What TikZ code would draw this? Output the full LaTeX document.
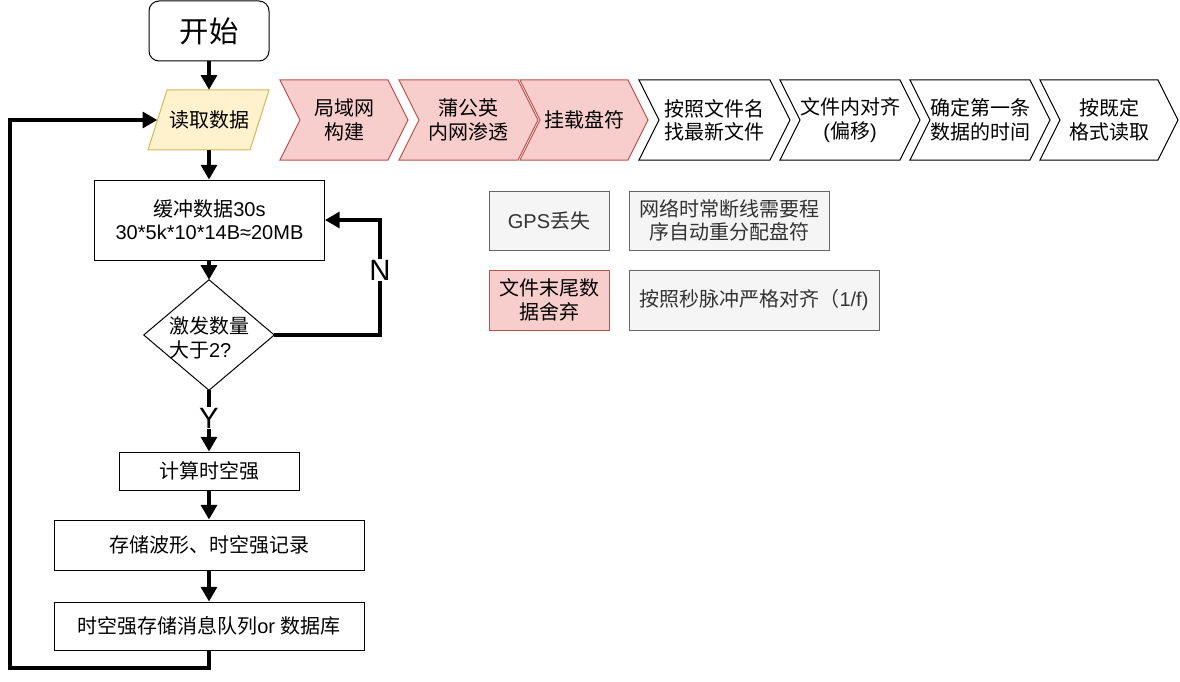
\documentclass[tikz,border=0pt]{standalone}
\usepackage{fontspec}
\setmainfont{Noto Sans CJK SC}
\newfontfamily\lat{Liberation Sans}
\usetikzlibrary{arrows.meta,calc}
\definecolor{redfill}{HTML}{F8CECC}
\definecolor{redline}{HTML}{B85450}
\definecolor{yelfill}{HTML}{FFF2CC}
\definecolor{yelline}{HTML}{D6B656}
\definecolor{grayfill}{HTML}{F5F5F5}
\definecolor{grayline}{HTML}{666666}
\definecolor{graytext}{HTML}{333333}
\newcommand\mychev[5]{%
  \draw[#3] (#1,80) -- (#2,80) -- ({#2+20},120) -- (#2,160) -- (#1,160) -- ({#1+20},120) -- cycle;
  \node[txt] (#4) at ({(#1+#2+20)/2},120) {#5};}
\begin{document}
\begin{tikzpicture}[x=0.75pt,y=-0.75pt,
  txt/.style={font=\fontsize{15pt}{17.5pt}\selectfont, inner sep=0pt, align=center},
  box/.style={txt, draw, line width=0.75pt},
  graybox/.style={box, draw=grayline, fill=grayfill, text=graytext},
  redbox/.style={box, draw=redline, fill=redfill},
  redchev/.style={draw=redline, fill=redfill, line width=0.75pt, line join=miter},
  whitechev/.style={draw=black, fill=white, line width=0.75pt, line join=miter},
  conn/.style={line width=2.5pt, -{Triangle[length=11pt,width=12pt]}},
  lbl/.style={font=\fontsize{22pt}{24pt}\selectfont\lat, fill=white, inner sep=1pt}
]
\useasboundingbox (0,0) rectangle (1180,681);

% left flow
\node[box, rounded corners=7.5pt, minimum width=90pt, minimum height=45pt,
      font=\fontsize{22pt}{24pt}\selectfont] (start) at (209,31) {开始};
\node[txt, minimum width=77.25pt, minimum height=45pt] (read) at (209,120) {};
\draw[draw=yelline, fill=yelfill, line width=0.75pt]
  ($(read.center)+(-42,-30)$) -- ($(read.center)+(60,-30)$) --
  ($(read.center)+(41,30)$) -- ($(read.center)+(-61,30)$) -- cycle;
\node[txt] (readtxt) at (read.center) {读取数据};

\node[box, minimum width=172.5pt, minimum height=60pt] (buf) at (209.5,220)
  {缓冲数据{\lat 30s}\\{\lat 30*5k*10*14B≈20MB}};

\node[txt, minimum width=97.5pt, minimum height=82.5pt] (dec) at (209,335) {};
\draw[line width=0.75pt] (dec.north) -- (dec.east) -- (dec.south) -- (dec.west) -- cycle;
\node[txt, align=left] (dectxt) at (209,338) {激发数量\\大于{\lat 2?}};

\node[box, minimum width=135pt, minimum height=28.5pt] (calc) at (209,471) {计算时空强};
\node[box, minimum width=232.5pt, minimum height=37.5pt] (store) at (209,545) {存储波形、时空强记录};
\node[box, minimum width=232.5pt, minimum height=36pt] (mq) at (209,626) {时空强存储消息队列{\lat or }数据库};

\draw[conn] (start.south) -- (start.south |- read.north);
\draw[conn] (read.south) -- (read.south |- buf.north);
\draw[conn] (buf.south -| dec.north) -- (dec.north);
\coordinate (nc) at (380,335);
\draw[conn] (dec.east) -- (nc) |- (buf.east);
\node[lbl] (nlbl) at (380,270) {N};
\draw[conn] (dec.south) -- (calc.north);
\node[lbl] (ylbl) at (209,418) {Y};
\draw[conn] (calc.south) -- (store.north);
\draw[conn] (store.south) -- (mq.north);
\coordinate (l1) at (209,668);
\coordinate (l2) at (10,668);
\coordinate (l3) at (10,120);
\draw[conn] (mq.south) -- (l1) -- (l2) -- (l3) -- (read.west);

% chevrons
\mychev{280}{388}{redchev}{c1}{局域网\\构建}
\mychev{399}{518}{redchev}{c2}{蒲公英\\内网渗透}
\mychev{520}{628}{redchev}{c3}{挂载盘符}
\mychev{639}{770}{whitechev}{c4}{按照文件名\\找最新文件}
\mychev{780}{900}{whitechev}{c5}{文件内对齐\\{\lat (}偏移{\lat )}}
\mychev{910}{1030}{whitechev}{c6}{确定第一条\\数据的时间}
\mychev{1040}{1158}{whitechev}{c7}{按既定\\格式读取}

% notes
\node[graybox, minimum width=90pt, minimum height=44.25pt] (gps) at (549,220.5) {{\lat GPS}丢失};
\node[graybox, minimum width=150pt, minimum height=44.25pt] (net) at (729,220.5) {网络时常断线需要程\\序自动重分配盘符};
\node[redbox, minimum width=90pt, minimum height=45pt] (tail) at (549,300) {文件末尾数\\据舍弃};
\node[graybox, minimum width=187.5pt, minimum height=45pt] (pulse) at (754,300) {按照秒脉冲严格对齐（{\lat 1/f)}};
\end{tikzpicture}
\end{document}
